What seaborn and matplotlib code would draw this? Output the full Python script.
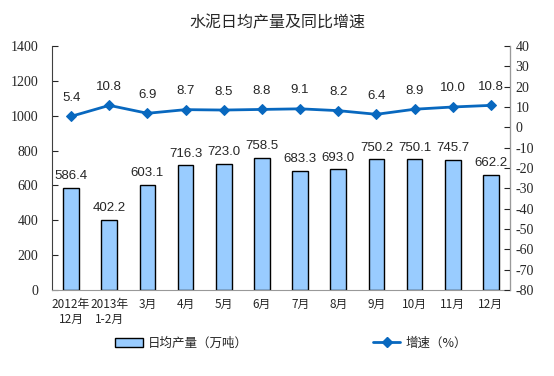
import matplotlib
matplotlib.use("Agg")
import matplotlib.pyplot as plt
import seaborn as sns
import numpy as np
from matplotlib.patches import Patch
from matplotlib.lines import Line2D

months = ["2012年\n12月", "2013年\n1-2月", "3月", "4月", "5月", "6月",
          "7月", "8月", "9月", "10月", "11月", "12月"]
output = [586.4, 402.2, 603.1, 716.3, 723.0, 758.5,
          683.3, 693.0, 750.2, 750.1, 745.7, 662.2]
growth = [5.4, 10.8, 6.9, 8.7, 8.5, 8.8, 9.1, 8.2, 6.4, 8.9, 10.0, 10.8]

bar_color = "#99CCFF"
line_color = "#0868BF"
cjk = ["Noto Sans CJK SC", "DejaVu Sans"]
serif = "Liberation Serif"
sans = "Liberation Sans"

sns.set_style("white")
plt.rcParams["font.family"] = cjk
plt.rcParams["axes.unicode_minus"] = False

fig = plt.figure(figsize=(5.54, 3.76), dpi=100)
ax = fig.add_axes([0.0939, 0.2287, 0.8267, 0.649])

sns.barplot(x=months, y=output, color=bar_color, saturation=1,
            width=0.41, edgecolor="black", linewidth=1.0, ax=ax)
for i, v in enumerate(output):
    ax.annotate(f"{v:.1f}", (i, v), xytext=(0, 4), textcoords="offset points",
                ha="center", va="bottom", fontsize=9.5, family=sans)

ax.set_ylim(0, 1400)
ax.set_yticks(range(0, 1401, 200))
ax.set_xlim(-0.5, len(months) - 0.5)
ax.tick_params(axis="y", direction="in", length=4, labelsize=10, pad=10,
               labelfontfamily=serif)
ax.tick_params(axis="x", length=0, labelsize=8.5, pad=6)
ax.set_xticks(np.arange(-0.5, len(months), 1), minor=True)
ax.tick_params(axis="x", which="minor", direction="in", length=3, color="#999999")

ax2 = ax.twinx()
sns.lineplot(x=np.arange(len(growth)), y=growth, color=line_color,
             marker="D", markersize=5, markeredgecolor=line_color,
             linewidth=2, ax=ax2)
for i, v in enumerate(growth):
    ax2.annotate(f"{v:.1f}", (i, v), xytext=(0, 9), textcoords="offset points",
                 ha="center", va="bottom", fontsize=9.5, family=sans)
ax2.set_ylim(-80, 40)
ax2.set_yticks(range(-80, 41, 10))
ax2.tick_params(axis="y", direction="in", length=4, labelsize=10, pad=4,
                labelfontfamily=serif)

for a in (ax, ax2):
    a.spines["top"].set_visible(False)
    a.set_xlabel("")
    a.set_ylabel("")
ax.spines["left"].set_color("#404040")
ax.spines["bottom"].set_color("#999999")
ax2.spines["right"].set_color("#999999")
ax2.spines["left"].set_visible(False)
ax2.spines["bottom"].set_visible(False)

fig.text(0.5, 0.94, "水泥日均产量及同比增速", ha="center", va="center",
         fontsize=11.5, family=cjk)

handles = [Patch(facecolor=bar_color, edgecolor="black", linewidth=1.0),
           Line2D([], [], color=line_color, marker="D", markersize=5, linewidth=2)]
fig.legend(handles, ["日均产量（万吨）", "增速（%）"], loc="center",
           bbox_to_anchor=(291 / 554, 1 - 343 / 376), ncol=2, frameon=False,
           fontsize=9, columnspacing=10, handlelength=2.2, handletextpad=0.4)

fig.savefig("out.png", dpi=100)
